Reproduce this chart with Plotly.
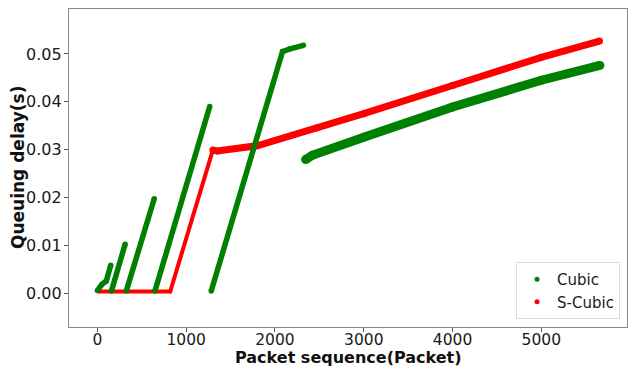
import plotly.graph_objects as go

# ---- data (packet sequence, queuing delay in s) ----
# Cubic: fast sawtooth ramps (None separates the separate ramps)
cubic_ramp_x = [0, 50, 100, 150, None, 158, 312, None, 325, 640, None,
                648, 1265, None, 1282, 2085, 2160, 2320]
cubic_ramp_y = [0.0005, 0.0018, 0.0025, 0.0058, None, 0.0004, 0.0102, None,
                0.0004, 0.0197, None, 0.0004, 0.0390, None, 0.0004, 0.0505,
                0.0510, 0.0518]
# Cubic: slow noisy band after the drop
cubic_band_x = [2345, 2420, 3000, 4000, 5000, 5660]
cubic_band_y = [0.0279, 0.0288, 0.0326, 0.0389, 0.0445, 0.0476]

# S-Cubic: flat start and ramp
scubic_low_x = [10, 820, 1300]
scubic_low_y = [0.0003, 0.0003, 0.0299]
# S-Cubic: slow noisy band
scubic_band_x = [1300, 1350, 1800, 2470, 3000, 4000, 5000, 5655]
scubic_band_y = [0.0299, 0.0297, 0.0308, 0.0345, 0.0375, 0.0434, 0.0493, 0.0527]

x_ticks = [0, 1000, 2000, 3000, 4000, 5000]
y_ticks = [0.00, 0.01, 0.02, 0.03, 0.04, 0.05]
y_tick_labels = ["0.00", "0.01", "0.02", "0.03", "0.04", "0.05"]

GREEN = "#008000"
RED = "#ff0000"
FONT = "DejaVu Sans"

fig = go.Figure()


def band(x, y, color, width):
    fig.add_trace(go.Scatter(
        x=x, y=y, mode="lines+markers", showlegend=False, hoverinfo="skip",
        line=dict(color=color, width=width),
        marker=dict(color=color, size=width, line=dict(width=0)),
        connectgaps=False))


# red drawn first (green lies on top in the reference)
band(scubic_low_x, scubic_low_y, RED, 4)
band(scubic_band_x, scubic_band_y, RED, 7)
band(cubic_ramp_x, cubic_ramp_y, GREEN, 5.5)
band(cubic_band_x, cubic_band_y, GREEN, 9)

# legend entries
fig.add_trace(go.Scatter(x=[None], y=[None], mode="markers", name="Cubic",
                         marker=dict(color=GREEN, size=5)))
fig.add_trace(go.Scatter(x=[None], y=[None], mode="markers", name="S-Cubic",
                         marker=dict(color=RED, size=5)))

axis_common = dict(showgrid=False, zeroline=False, showline=True, mirror=True,
                   linecolor="#8a8a8a", linewidth=1.2, ticks="outside",
                   ticklen=4, tickwidth=1, tickcolor="#555")

fig.update_layout(
    width=628, height=367,
    margin=dict(l=69, r=1, t=9, b=40),
    paper_bgcolor="white", plot_bgcolor="white",
    font=dict(family=FONT, color="#1a1a1a"),
    xaxis=dict(range=[-320, 5965], tickvals=x_ticks, ticklabelstandoff=-6,
               tickfont=dict(family=FONT, size=15.5, color="#1a1a1a"),
               **axis_common),
    yaxis=dict(range=[-0.00711, 0.0594], tickvals=y_ticks,
               ticktext=y_tick_labels, ticklabelstandoff=-1,
               tickfont=dict(family=FONT, size=16, color="#1a1a1a"),
               **axis_common),
    legend=dict(x=0.9875, y=0.025, xanchor="right", yanchor="bottom",
                bgcolor="white", bordercolor="#dddddd", borderwidth=1,
                font=dict(family=FONT, size=15, color="#1a1a1a"),
                tracegroupgap=2),
    annotations=[
        dict(text="<b>Packet sequence(Packet)</b>", xref="paper", yref="paper",
             x=0.5, y=-0.0, yshift=-30.5, xanchor="center", yanchor="middle",
             showarrow=False, font=dict(family=FONT, size=16, color="#111")),
        dict(text="<b>Queuing delay(s)</b>", xref="paper", yref="paper",
             x=0, xshift=-51, y=0.5, xanchor="center", yanchor="middle",
             textangle=-90, showarrow=False,
             font=dict(family=FONT, size=17, color="#111")),
    ],
)

fig.write_html("out.html")
